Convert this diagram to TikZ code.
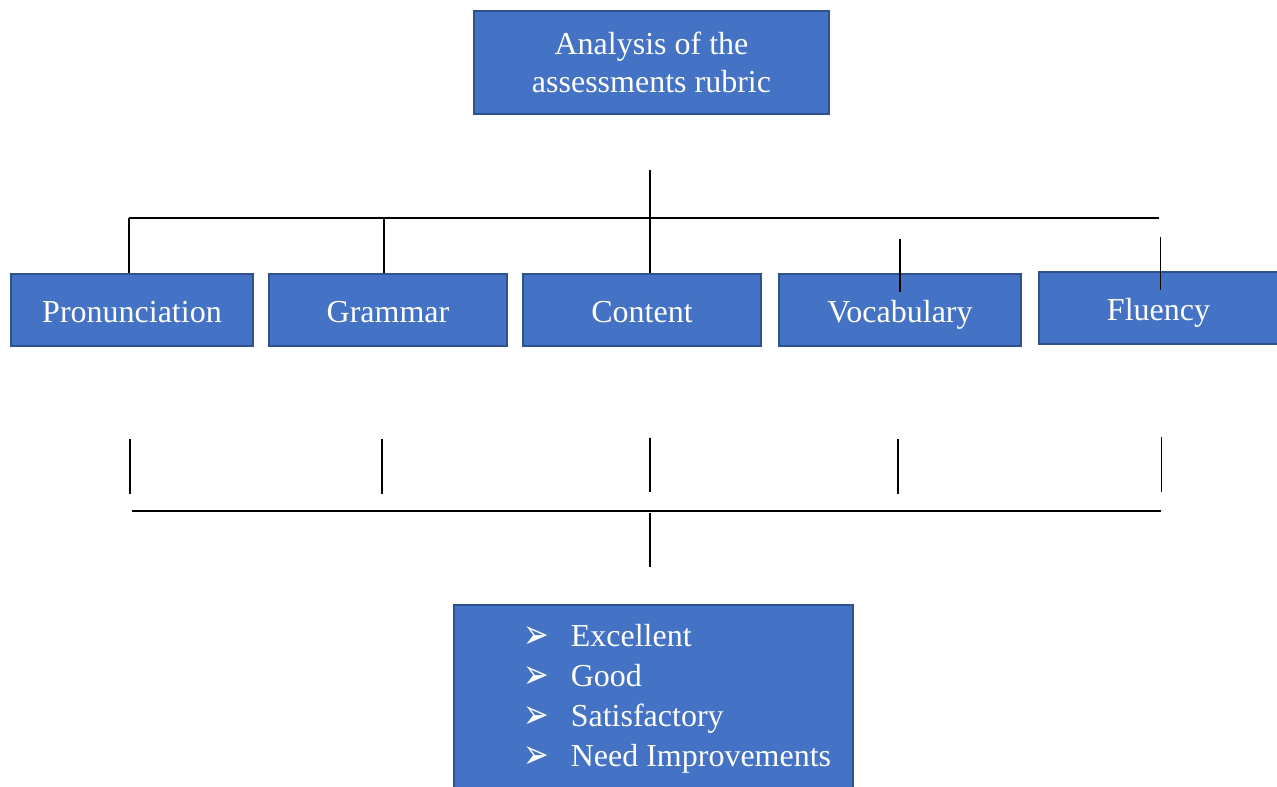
\documentclass[tikz,border=0pt]{standalone}
\usepackage{fontspec}
\setmainfont{Liberation Serif}
\newfontfamily\symfont{DejaVu Sans}
\usetikzlibrary{positioning,calc}
\definecolor{boxfill}{HTML}{4472C4}
\definecolor{boxedge}{HTML}{2F528F}
\newcommand{\gradeitem}[1]{\makebox[35.25pt][l]{\raisebox{-1.5pt}{\scalebox{1.05}[1.4]{\symfont\fontsize{22}{22}\selectfont ➢}}}#1}

\begin{document}
\begin{tikzpicture}[x=0.75pt, y=-0.75pt, font=\fontsize{24}{28}\selectfont]
  \tikzstyle{block} = [draw=boxedge, fill=boxfill, line width=1.5pt, text=white, inner sep=0pt, minimum height=54pt, anchor=north west]
  \tikzstyle{label} = [text height=19pt, text depth=0pt]
  \tikzstyle{link} = [line width=0.8pt]
  \useasboundingbox (0,0) rectangle (1277,787);
  % boxes
  \node[block, minimum width=266.25pt, minimum height=77.25pt, align=center] (rubric) at (473,10) {Analysis of the\\assessments rubric};
  \node[block, label, minimum width=181.5pt] (pron) at (10,273) {Pronunciation};
  \node[block, label, minimum width=178.5pt] (gram) at (268,273) {Grammar};
  \node[block, label, minimum width=178.5pt] (cont) at (522,273) {Content};
  \node[block, label, minimum width=181.5pt] (vocab) at (778,273) {Vocabulary};
  \node[block, label, minimum width=179.25pt] (flu) at (1038,271) {Fluency};
  \node[block, minimum width=299.25pt, minimum height=140.25pt] (grades) at (453,604) {%
    \fontsize{24}{30}\selectfont
    \begin{tabular}{@{\hspace{36pt}}l@{}}
      \gradeitem{Excellent}\\
      \gradeitem{Good}\\
      \gradeitem{Satisfactory}\\
      \gradeitem{Need Improvements}
    \end{tabular}};
  % upper tree
  \coordinate (hub) at (650,170);
  \coordinate (busl) at (129,218);
  \coordinate (busr) at (1159,218);
  \draw[link] (hub) -- (hub |- busl);
  \draw[link] (busl) -- (busr);
  \draw[link] (busl) -- (busl |- pron.north);
  \draw[link] ($(gram.north |- busl)+(-4,0)$) -- ($(gram.north)+(-4,0)$);
  \draw[link] (hub |- busl) -- (hub |- cont.north);
  \draw[link] ($(vocab.north)+(0,-34)$) -- ($(vocab.north)+(0,19)$);
  \draw[link] ($(flu.north)+(2,-34)$) -- ($(flu.north)+(2,19)$);
  % lower tree
  \foreach \b/\dx in {pron/-2, gram/-6, vocab/-2, flu/3}
    \draw[link] ($(\b.south)+(\dx,92)$) -- ($(\b.south)+(\dx,147)$);
  \draw[link] ($(hub |- cont.south)+(0,91)$) -- +(0,54);
  \coordinate (lowl) at (132,511);
  \coordinate (lowr) at (1161,511);
  \draw[link] (lowl) -- (lowr);
  \draw[link] ($(hub |- grades.north)+(0,-91)$) -- ($(hub |- grades.north)+(0,-37)$);
\end{tikzpicture}
\end{document}
